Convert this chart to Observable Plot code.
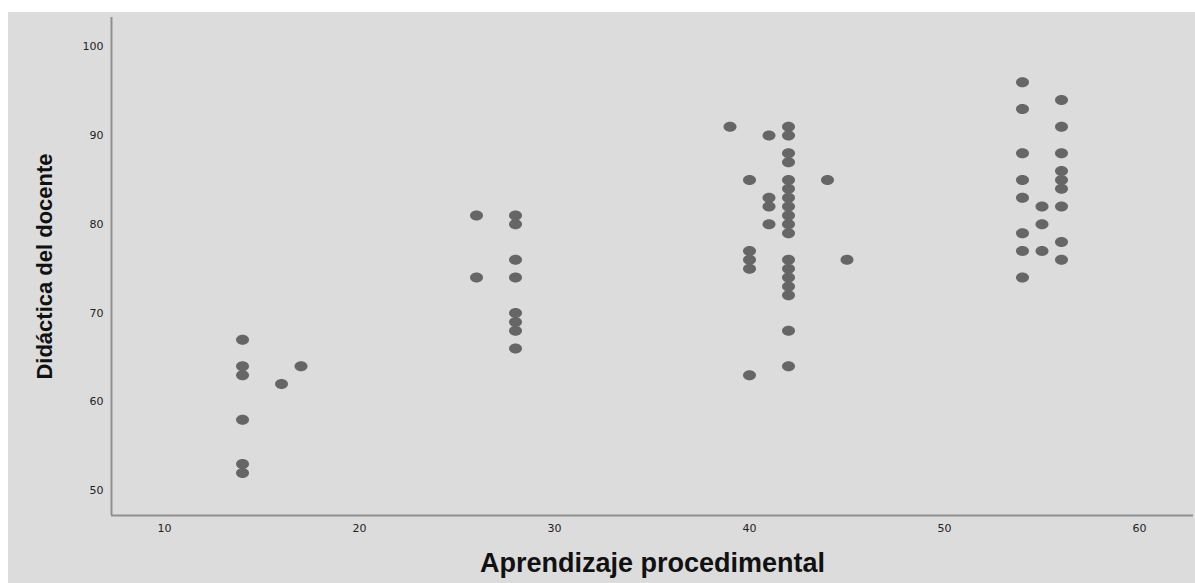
<!DOCTYPE html>
<html>
<head>
<meta charset="utf-8">
<script src="https://cdn.jsdelivr.net/npm/d3@7"></script>
<script src="https://cdn.jsdelivr.net/npm/@observablehq/plot@0.6"></script>
<style>
  html, body { margin: 0; padding: 0; background: #ffffff; }
  #bg { position: absolute; left: 8px; top: 12px; right: 0; bottom: 0; background: #dcdcdc; }
  #chart { position: absolute; left: 0; top: 0; }
</style>
</head>
<body>
<div id="bg"></div>
<div id="chart"></div>
<script>
// Aprendizaje procedimental (x) and Didáctica del docente (y), one entry per respondent
const aprendizaje = [
  14, 14, 14, 14, 14, 14,
  16, 17,
  26, 26,
  28, 28, 28, 28, 28, 28, 28, 28,
  39,
  40, 40, 40, 40, 40,
  41, 41, 41, 41,
  42, 42, 42, 42, 42, 42, 42, 42, 42, 42, 42, 42, 42, 42, 42, 42, 42, 42,
  44, 45,
  54, 54, 54, 54, 54, 54, 54, 54,
  55, 55, 55,
  56, 56, 56, 56, 56, 56, 56, 56, 56
];
const didactica = [
  67, 64, 63, 58, 53, 52,
  62, 64,
  81, 74,
  81, 80, 76, 74, 70, 69, 68, 66,
  91,
  85, 77, 76, 75, 63,
  90, 83, 82, 80,
  91, 90, 88, 87, 85, 84, 83, 82, 81, 80, 79, 76, 75, 74, 73, 72, 68, 64,
  85, 76,
  96, 93, 88, 85, 83, 79, 77, 74,
  82, 80, 77,
  94, 91, 88, 86, 85, 84, 82, 78, 76
];
const xTicks = [10, 20, 30, 40, 50, 60];
const yTicks = [50, 60, 70, 80, 90, 100];
const xLabel = "Aprendizaje procedimental";
const yLabel = "Didáctica del docente";
const xDomain = [7.28, 62.77];
const yDomain = [47.2, 103.3];

const points = aprendizaje.map((a, i) => ({x: a, y: didactica[i]}));

// slightly wide ellipse symbol, like the reference markers
const ellipse = {
  draw(context, size) {
    const r = Math.sqrt(size / Math.PI);
    const rx = r * 1.3, ry = r, k = 0.5523;
    context.moveTo(rx, 0);
    context.bezierCurveTo(rx, ry * k, rx * k, ry, 0, ry);
    context.bezierCurveTo(-rx * k, ry, -rx, ry * k, -rx, 0);
    context.bezierCurveTo(-rx, -ry * k, -rx * k, -ry, 0, -ry);
    context.bezierCurveTo(rx * k, -ry, rx, -ry * k, rx, 0);
    context.closePath();
  }
};

const chart = Plot.plot({
  width: 1195,
  height: 583,
  marginLeft: 111,
  marginRight: 2,
  marginTop: 17,
  marginBottom: 68,
  style: {background: "transparent", fontFamily: "DejaVu Sans", fontSize: "11px", color: "#222"},
  x: {domain: xDomain},
  y: {domain: yDomain},
  marks: [
    Plot.axisX({ticks: xTicks, tickSize: 0, tickPadding: 9, label: null, style: {letterSpacing: "1.5px"}}),
    Plot.axisY({ticks: yTicks, tickSize: 0, tickPadding: 8, label: null, style: {letterSpacing: "1.5px"}}),
    Plot.ruleX([xDomain[0]], {stroke: "#8f8f8f", strokeWidth: 2}),
    Plot.ruleY([yDomain[0]], {stroke: "#8f8f8f", strokeWidth: 2}),
    Plot.dot(points, {x: "x", y: "y", r: 5, symbol: ellipse, fill: "#666666", stroke: "none"}),
    Plot.text([xLabel], {text: d => d, frameAnchor: "bottom", dy: 56, fontSize: 27, fontWeight: "bold", fontFamily: "Liberation Sans", fill: "#111"}),
    Plot.text([yLabel], {text: d => d, frameAnchor: "left", textAnchor: "middle", dx: -67, rotate: -90, fontSize: 22, fontWeight: "bold", fontFamily: "Liberation Sans", fill: "#111"})
  ]
});
document.getElementById("chart").appendChild(chart);
</script>
</body>
</html>
